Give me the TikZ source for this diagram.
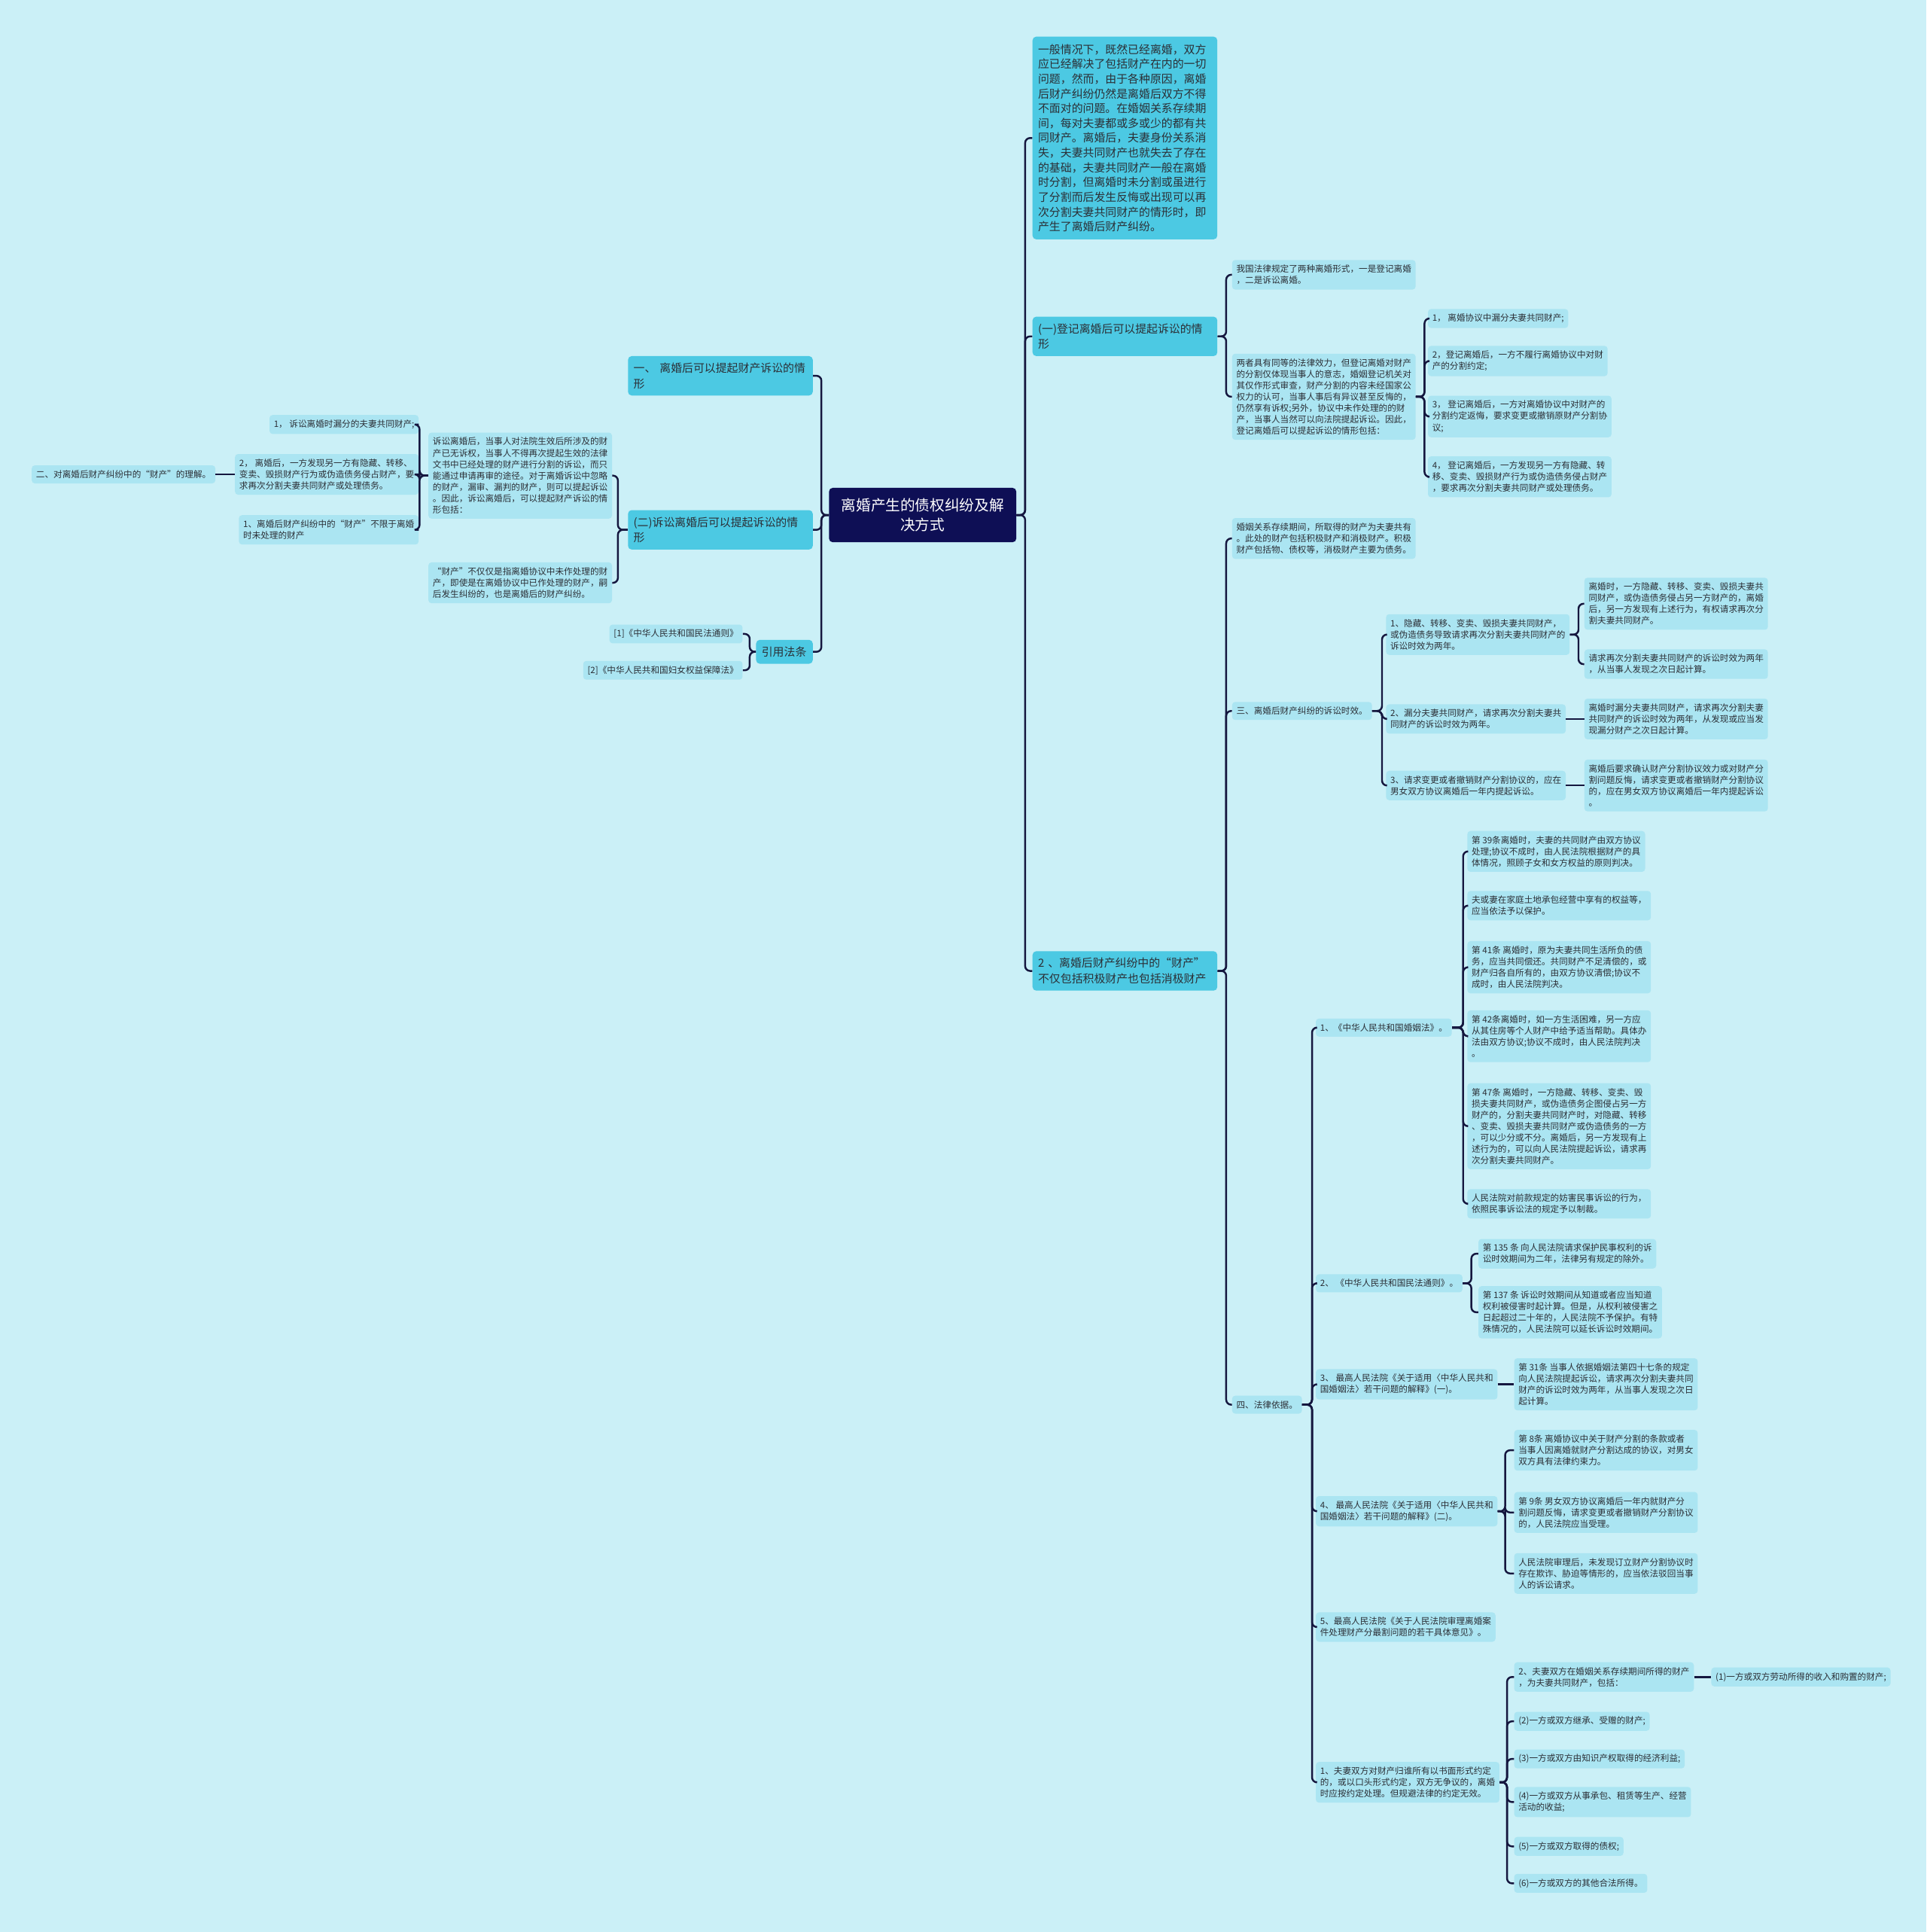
\documentclass[tikz,border=0pt]{standalone}
\usepackage{fontspec}
\setmainfont{Noto Sans CJK SC}
\usepackage{xcolor}
\usepackage{tikz}

\definecolor{bgcol}{HTML}{CBF0F7}
\definecolor{rootcol}{HTML}{0E0F55}
\definecolor{maincol}{HTML}{4CC9E3}
\definecolor{leafcol}{HTML}{ABE5F2}
\definecolor{linecol}{HTML}{15173F}
\definecolor{textcol}{HTML}{2B2F36}

\begin{document}
\begin{tikzpicture}[
  x=1pt, y=-1pt,
  root/.style={fill=rootcol, text=white, rounded corners=3pt, font=\fontsize{12}{16}\selectfont, align=center, inner xsep=10pt, inner ysep=8.5pt},
  main/.style={fill=maincol, text=textcol, rounded corners=3pt, font=\fontsize{9.1}{12.5}\selectfont, align=left, text width=141pt, inner xsep=4.5pt, inner ysep=5.5pt},
  leaf/.style={fill=leafcol, text=textcol, rounded corners=2.5pt, font=\fontsize{7.1}{9.2}\selectfont, align=left, inner xsep=3.5pt, inner ysep=4pt},
  link/.style={draw=linecol, line width=1.5pt, rounded corners=4pt}
]
\fill[bgcol] (0,0) rectangle (1564,1568);

\node[root] (root) at (749,418) {离婚产生的债权纠纷及解\\决方式};

\node[main, anchor=west, font=\fontsize{9.1}{12}\selectfont, inner ysep=6pt] (r1) at (838,112) {一般情况下，既然已经离婚，双方\\应已经解决了包括财产在内的一切\\问题，然而，由于各种原因，离婚\\后财产纠纷仍然是离婚后双方不得\\不面对的问题。在婚姻关系存续期\\间，每对夫妻都或多或少的都有共\\同财产。离婚后，夫妻身份关系消\\失，夫妻共同财产也就失去了存在\\的基础，夫妻共同财产一般在离婚\\时分割，但离婚时未分割或虽进行\\了分割而后发生反悔或出现可以再\\次分割夫妻共同财产的情形时，即\\产生了离婚后财产纠纷。};
\node[main, anchor=west] (r2) at (838,273) {(一)登记离婚后可以提起诉讼的情\\形};
\node[main, anchor=west] (r3) at (838,788) {2 、离婚后财产纠纷中的“财产”\\不仅包括积极财产也包括消极财产};

\node[main, anchor=east] (l1) at (660,305) {一、\ 离婚后可以提起财产诉讼的情\\形};
\node[main, anchor=east] (l2) at (660,430) {(二)诉讼离婚后可以提起诉讼的情\\形};
\node[main, anchor=east, text width=37pt] (l3) at (660,529) {引用法条};

\node[leaf, anchor=east] (l2a) at (497,386) {诉讼离婚后，当事人对法院生效后所涉及的财\\产已无诉权，当事人不得再次提起生效的法律\\文书中已经处理的财产进行分割的诉讼，而只\\能通过申请再审的途径。对于离婚诉讼中忽略\\的财产，漏审、漏判的财产，则可以提起诉讼\\。因此，诉讼离婚后，可以提起财产诉讼的情\\形包括：};
\node[leaf, anchor=east] (l2b) at (497,473) {“财产”不仅仅是指离婚协议中未作处理的财\\产，即使是在离婚协议中已作处理的财产，嗣\\后发生纠纷的，也是离婚后的财产纠纷。};
\node[leaf, anchor=east] (l2a1) at (340,344.5) {1， 诉讼离婚时漏分的夫妻共同财产;};
\node[leaf, anchor=east] (l2a2) at (340,385) {2， 离婚后，一方发现另一方有隐藏、转移、\\变卖、毁损财产行为或伪造债务侵占财产，要\\求再次分割夫妻共同财产或处理债务。};
\node[leaf, anchor=east] (l2a3) at (340,430) {1、离婚后财产纠纷中的“财产”不限于离婚\\时未处理的财产};
\node[leaf, anchor=east] (lft) at (175,385) {二、对离婚后财产纠纷中的“财产”的理解。};
\node[leaf, anchor=east] (l3a) at (603,514.5) {[1]《中华人民共和国民法通则》};
\node[leaf, anchor=east] (l3b) at (603,544) {[2]《中华人民共和国妇女权益保障法》};

\node[leaf, anchor=west] (r2a) at (1000,223) {我国法律规定了两种离婚形式，一是登记离婚\\，二是诉讼离婚。};
\node[leaf, anchor=west] (r2b) at (1000,322) {两者具有同等的法律效力，但登记离婚对财产\\的分割仅体现当事人的意志，婚姻登记机关对\\其仅作形式审查，财产分割的内容未经国家公\\权力的认可，当事人事后有异议甚至反悔的，\\仍然享有诉权;另外，协议中未作处理的的财\\产，当事人当然可以向法院提起诉讼。因此，\\登记离婚后可以提起诉讼的情形包括：};
\node[leaf, anchor=west] (r2b1) at (1159,258.5) {1， 离婚协议中漏分夫妻共同财产;};
\node[leaf, anchor=west] (r2b2) at (1159,293) {2，登记离婚后，一方不履行离婚协议中对财\\产的分割约定;};
\node[leaf, anchor=west] (r2b3) at (1159,338) {3， 登记离婚后，一方对离婚协议中对财产的\\分割约定返悔，要求变更或撤销原财产分割协\\议;};
\node[leaf, anchor=west] (r2b4) at (1159,387) {4， 登记离婚后，一方发现另一方有隐藏、转\\移、变卖、毁损财产行为或伪造债务侵占财产\\，要求再次分割夫妻共同财产或处理债务。};

\node[leaf, anchor=west] (r3a) at (1000,437) {婚姻关系存续期间，所取得的财产为夫妻共有\\。此处的财产包括积极财产和消极财产。积极\\财产包括物、债权等，消极财产主要为债务。};
\node[leaf, anchor=west] (r3b) at (1000,577) {三、离婚后财产纠纷的诉讼时效。};
\node[leaf, anchor=west] (r3c) at (1000,1140) {四、法律依据。};

\node[leaf, anchor=west] (r3b1) at (1125,515) {1、隐藏、转移、变卖、毁损夫妻共同财产，\\或伪造债务导致请求再次分割夫妻共同财产的\\诉讼时效为两年。};
\node[leaf, anchor=west] (r3b2) at (1125,583.5) {2、漏分夫妻共同财产，请求再次分割夫妻共\\同财产的诉讼时效为两年。};
\node[leaf, anchor=west] (r3b3) at (1125,637.5) {3、请求变更或者撤销财产分割协议的，应在\\男女双方协议离婚后一年内提起诉讼。};
\node[leaf, anchor=west] (r3b1a) at (1286,490) {离婚时，一方隐藏、转移、变卖、毁损夫妻共\\同财产，或伪造债务侵占另一方财产的，离婚\\后，另一方发现有上述行为，有权请求再次分\\割夫妻共同财产。};
\node[leaf, anchor=west] (r3b1b) at (1286,539) {请求再次分割夫妻共同财产的诉讼时效为两年\\，从当事人发现之次日起计算。};
\node[leaf, anchor=west] (r3b2a) at (1286,583.5) {离婚时漏分夫妻共同财产，请求再次分割夫妻\\共同财产的诉讼时效为两年，从发现或应当发\\现漏分财产之次日起计算。};
\node[leaf, anchor=west] (r3b3a) at (1286,637.5) {离婚后要求确认财产分割协议效力或对财产分\\割问题反悔，请求变更或者撤销财产分割协议\\的，应在男女双方协议离婚后一年内提起诉讼\\。};

\node[leaf, anchor=west] (c1) at (1068,834) {1、《中华人民共和国婚姻法》。};
\node[leaf, anchor=west] (c1a) at (1191,691) {第 39条离婚时，夫妻的共同财产由双方协议\\处理;协议不成时，由人民法院根据财产的具\\体情况，照顾子女和女方权益的原则判决。};
\node[leaf, anchor=west] (c1b) at (1191,735) {夫或妻在家庭土地承包经营中享有的权益等，\\应当依法予以保护。};
\node[leaf, anchor=west] (c1c) at (1191,785) {第 41条 离婚时，原为夫妻共同生活所负的债\\务，应当共同偿还。共同财产不足清偿的，或\\财产归各自所有的，由双方协议清偿;协议不\\成时，由人民法院判决。};
\node[leaf, anchor=west] (c1d) at (1191,841) {第 42条离婚时，如一方生活困难，另一方应\\从其住房等个人财产中给予适当帮助。具体办\\法由双方协议;协议不成时，由人民法院判决\\。};
\node[leaf, anchor=west] (c1e) at (1191,914) {第 47条 离婚时，一方隐藏、转移、变卖、毁\\损夫妻共同财产，或伪造债务企图侵占另一方\\财产的，分割夫妻共同财产时，对隐藏、转移\\、变卖、毁损夫妻共同财产或伪造债务的一方\\，可以少分或不分。离婚后，另一方发现有上\\述行为的，可以向人民法院提起诉讼，请求再\\次分割夫妻共同财产。};
\node[leaf, anchor=west] (c1f) at (1191,977) {人民法院对前款规定的妨害民事诉讼的行为，\\依照民事诉讼法的规定予以制裁。};

\node[leaf, anchor=west] (c2) at (1068,1041.5) {2、 《中华人民共和国民法通则》。};
\node[leaf, anchor=west] (c2a) at (1200,1017.5) {第 135 条 向人民法院请求保护民事权利的诉\\讼时效期间为二年，法律另有规定的除外。};
\node[leaf, anchor=west] (c2b) at (1200,1065) {第 137 条 诉讼时效期间从知道或者应当知道\\权利被侵害时起计算。但是，从权利被侵害之\\日起超过二十年的，人民法院不予保护。有特\\殊情况的，人民法院可以延长诉讼时效期间。};

\node[leaf, anchor=west] (c3) at (1068,1123.5) {3、 最高人民法院《关于适用〈中华人民共和\\国婚姻法〉若干问题的解释》(一)。};
\node[leaf, anchor=west] (c3a) at (1229,1123.5) {第 31条 当事人依据婚姻法第四十七条的规定\\向人民法院提起诉讼，请求再次分割夫妻共同\\财产的诉讼时效为两年，从当事人发现之次日\\起计算。};

\node[leaf, anchor=west] (c4) at (1068,1226.5) {4、 最高人民法院《关于适用〈中华人民共和\\国婚姻法〉若干问题的解释》(二)。};
\node[leaf, anchor=west] (c4a) at (1229,1177) {第 8条 离婚协议中关于财产分割的条款或者\\当事人因离婚就财产分割达成的协议，对男女\\双方具有法律约束力。};
\node[leaf, anchor=west] (c4b) at (1229,1227.5) {第 9条 男女双方协议离婚后一年内就财产分\\割问题反悔，请求变更或者撤销财产分割协议\\的，人民法院应当受理。};
\node[leaf, anchor=west] (c4c) at (1229,1277) {人民法院审理后，未发现订立财产分割协议时\\存在欺诈、胁迫等情形的，应当依法驳回当事\\人的诉讼请求。};

\node[leaf, anchor=west] (c5) at (1068,1320.5) {5、最高人民法院《关于人民法院审理离婚案\\件处理财产分最割问题的若干具体意见》。};

\node[leaf, anchor=west] (c6) at (1068,1446.5) {1、夫妻双方对财产归谁所有以书面形式约定\\的，或以口头形式约定，双方无争议的，离婚\\时应按约定处理。但规避法律的约定无效。};
\node[leaf, anchor=west] (c6a) at (1229,1361) {2、夫妻双方在婚姻关系存续期间所得的财产\\，为夫妻共同财产，包括：};
\node[leaf, anchor=west] (c6a1) at (1389,1361) {(1)一方或双方劳动所得的收入和购置的财产;};
\node[leaf, anchor=west] (c6b) at (1229,1397) {(2)一方或双方继承、受赠的财产;};
\node[leaf, anchor=west] (c6c) at (1229,1427.5) {(3)一方或双方由知识产权取得的经济利益;};
\node[leaf, anchor=west] (c6d) at (1229,1462.5) {(4)一方或双方从事承包、租赁等生产、经营\\活动的收益;};
\node[leaf, anchor=west] (c6e) at (1229,1498.5) {(5)一方或双方取得的债权;};
\node[leaf, anchor=west] (c6f) at (1229,1528.5) {(6)一方或双方的其他合法所得。};

\draw[link] (root.east) -- ++(7,0) |- (r1.west);
\draw[link] (root.east) -- ++(7,0) |- (r2.west);
\draw[link] (root.east) -- ++(7,0) |- (r3.west);
\draw[link] (root.west) -- ++(-6,0) |- (l1.east);
\draw[link] (root.west) -- ++(-6,0) |- (l2.east);
\draw[link] (root.west) -- ++(-6,0) |- (l3.east);

\draw[link] (l2.west) -- ++(-8,0) |- (l2a.east);
\draw[link] (l2.west) -- ++(-8,0) |- (l2b.east);
\draw[link] (l2a.west) -- ++(-7,0) |- (l2a1.east);
\draw[link] (l2a.west) -- ++(-7,0) |- (l2a2.east);
\draw[link] (l2a.west) -- ++(-7,0) |- (l2a3.east);
\draw[link] (l2a2.west) -- (lft.east);
\draw[link] (l3.west) -- ++(-5,0) |- (l3a.east);
\draw[link] (l3.west) -- ++(-5,0) |- (l3b.east);

\draw[link] (r2.east) -- ++(7,0) |- (r2a.west);
\draw[link] (r2.east) -- ++(7,0) |- (r2b.west);
\draw[link] (r2b.east) -- ++(7,0) |- (r2b1.west);
\draw[link] (r2b.east) -- ++(7,0) |- (r2b2.west);
\draw[link] (r2b.east) -- ++(7,0) |- (r2b3.west);
\draw[link] (r2b.east) -- ++(7,0) |- (r2b4.west);

\draw[link] (r3.east) -- ++(7,0) |- (r3a.west);
\draw[link] (r3.east) -- ++(7,0) |- (r3b.west);
\draw[link] (r3.east) -- ++(7,0) |- (r3c.west);
\draw[link] (r3b.east) -- ++(8,0) |- (r3b1.west);
\draw[link] (r3b.east) -- ++(8,0) |- (r3b2.west);
\draw[link] (r3b.east) -- ++(8,0) |- (r3b3.west);
\draw[link] (r3b1.east) -- ++(7,0) |- (r3b1a.west);
\draw[link] (r3b1.east) -- ++(7,0) |- (r3b1b.west);
\draw[link] (r3b2.east) -- (r3b2a.west);
\draw[link] (r3b3.east) -- (r3b3a.west);

\draw[link] (r3c.east) -- ++(8,0) |- (c1.west);
\draw[link] (r3c.east) -- ++(8,0) |- (c2.west);
\draw[link] (r3c.east) -- ++(8,0) |- (c3.west);
\draw[link] (r3c.east) -- ++(8,0) |- (c4.west);
\draw[link] (r3c.east) -- ++(8,0) |- (c5.west);
\draw[link] (r3c.east) -- ++(8,0) |- (c6.west);
\draw[link] (c1.east) -- ++(9,0) |- (c1a.west);
\draw[link] (c1.east) -- ++(9,0) |- (c1b.west);
\draw[link] (c1.east) -- ++(9,0) |- (c1c.west);
\draw[link] (c1.east) -- ++(9,0) |- (c1d.west);
\draw[link] (c1.east) -- ++(9,0) |- (c1e.west);
\draw[link] (c1.east) -- ++(9,0) |- (c1f.west);
\draw[link] (c2.east) -- ++(7,0) |- (c2a.west);
\draw[link] (c2.east) -- ++(7,0) |- (c2b.west);
\draw[link] (c3.east) -- (c3a.west);
\draw[link] (c4.east) -- ++(6,0) |- (c4a.west);
\draw[link] (c4.east) -- ++(6,0) |- (c4b.west);
\draw[link] (c4.east) -- ++(6,0) |- (c4c.west);
\draw[link] (c6.east) -- ++(6,0) |- (c6a.west);
\draw[link] (c6.east) -- ++(6,0) |- (c6b.west);
\draw[link] (c6.east) -- ++(6,0) |- (c6c.west);
\draw[link] (c6.east) -- ++(6,0) |- (c6d.west);
\draw[link] (c6.east) -- ++(6,0) |- (c6e.west);
\draw[link] (c6.east) -- ++(6,0) |- (c6f.west);
\draw[link] (c6a.east) -- (c6a1.west);
\end{tikzpicture}
\end{document}
